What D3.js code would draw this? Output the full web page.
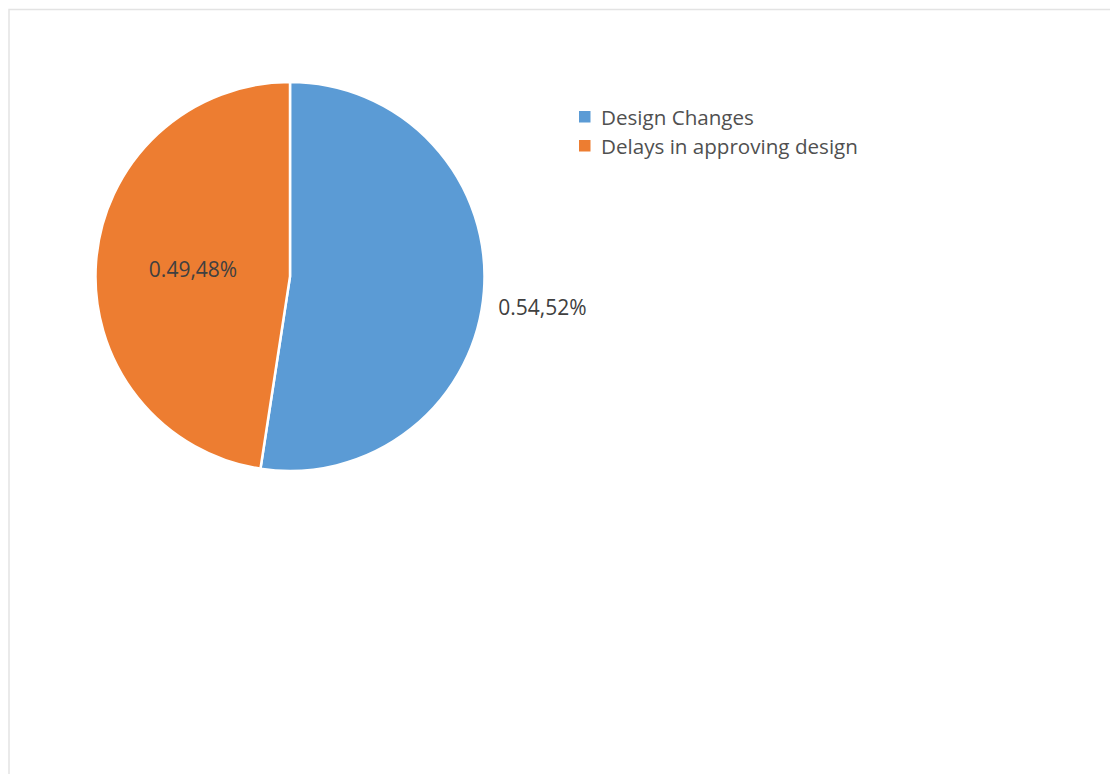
<!DOCTYPE html>
<html>
<head>
<meta charset="utf-8">
<script src="https://cdn.jsdelivr.net/npm/d3@7"></script>
<style>
  html, body { margin: 0; padding: 0; background: #fff; }
  svg { display: block; }
  text { font-family: "Open Sans", "Noto Sans", sans-serif; }
</style>
</head>
<body>
<svg id="chart" width="1110" height="774"></svg>
<script>
// Causes of delay and their shares
const categories = ["Design Changes", "Delays in approving design"];
const values = [0.54, 0.49];
const colors = ["#5B9BD5", "#ED7D31"];

const svg = d3.select("#chart");
const W = 1110, H = 774;

// chart area frame
svg.append("rect")
  .attr("x", 9).attr("y", 9.5)
  .attr("width", W + 20).attr("height", H + 20)
  .attr("fill", "#fff")
  .attr("stroke", "#e3e3e3").attr("stroke-width", 1.5);

const cx = 290, cy = 276.5, radius = 194.5;
const total = d3.sum(values);

const pie = d3.pie().sort(null).value(d => d)(values);
const arc = d3.arc().innerRadius(0).outerRadius(radius);

const g = svg.append("g").attr("transform", `translate(${cx},${cy})`);

g.selectAll("path.slice")
  .data(pie)
  .join("path")
  .attr("class", "slice")
  .attr("d", arc)
  .attr("fill", (d, i) => colors[i])
  .attr("stroke", "#fff")
  .attr("stroke-width", 2.5)
  .attr("stroke-linejoin", "round");

// data labels: "value,percent%"
const fmtLabel = d => `${d.value.toFixed(2)},${Math.round(d.value / total * 100)}%`;
const innerArc = d3.arc().innerRadius(radius * 0.5).outerRadius(radius * 0.5);
const outerArc = d3.arc().innerRadius(radius * 1.1).outerRadius(radius * 1.1);

g.selectAll("text.lbl")
  .data(pie)
  .join("text")
  .attr("class", "lbl")
  .each(function (d, i) {
    const t = d3.select(this);
    if (i === 0) {
      const [x, y] = outerArc.centroid(d);
      t.attr("x", x - 5).attr("y", y + 14).attr("text-anchor", "start");
    } else {
      const [x, y] = innerArc.centroid(d);
      t.attr("x", x).attr("y", y).attr("text-anchor", "middle");
    }
  })
  .attr("dominant-baseline", "central")
  .attr("font-size", 21)
  .attr("fill", "#404040")
  .text(fmtLabel);

// legend
const legend = svg.append("g").attr("transform", "translate(579,111)");
const item = legend.selectAll("g")
  .data(categories)
  .join("g")
  .attr("transform", (d, i) => `translate(0,${i * 29})`);
item.append("rect")
  .attr("width", 11.5).attr("height", 11.5)
  .attr("fill", (d, i) => colors[i]);
item.append("text")
  .attr("x", 22).attr("y", 6)
  .attr("dominant-baseline", "central")
  .attr("font-size", 20.6)
  .attr("fill", "#505050")
  .text(d => d);
</script>
</body>
</html>
